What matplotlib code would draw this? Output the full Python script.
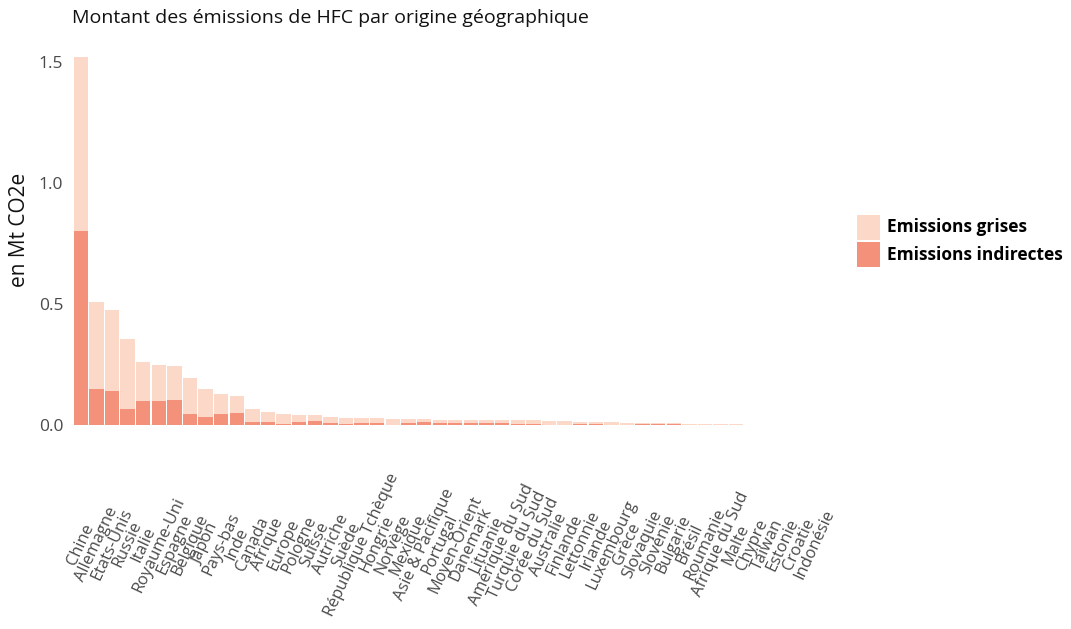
import matplotlib
matplotlib.use("Agg")
import matplotlib.pyplot as plt
from matplotlib.patches import Rectangle
import numpy as np

countries = ["Chine", "Allemagne", "Etats-Unis", "Russie", "Italie", "Royaume-Uni",
             "Espagne", "Belgique", "Japon", "Pays-bas", "Inde", "Canada", "Afrique",
             "Europe", "Pologne", "Suisse", "Autriche", "Suède", "République Tchèque",
             "Hongrie", "Norvège", "Mexique", "Asie & Pacifique", "Portugal",
             "Moyen-Orient", "Danemark", "Lituanie", "Amérique du Sud", "Turquie du Sud",
             "Corée du Sud", "Australie", "Finlande", "Lettonnie", "Irlande", "Luxembourg",
             "Grèce", "Slovaquie", "Slovénie", "Bulgarie", "Brésil", "Roumanie",
             "Afrique du Sud", "Malte", "Chypre", "Taiwan", "Estonie", "Croatie", "Indonésie"]

emissions_indirectes = [0.800, 0.150, 0.140, 0.065, 0.098, 0.098, 0.102, 0.045, 0.035, 0.045,
                        0.049, 0.012, 0.011, 0.003, 0.012, 0.017, 0.009, 0.004, 0.009, 0.009,
                        0.000, 0.009, 0.012, 0.009, 0.009, 0.009, 0.009, 0.009, 0.003, 0.003,
                        0.000, 0.000, 0.003, 0.003, 0.000, 0.000, 0.004, 0.004, 0.004, 0.000,
                        0.000, 0.000, 0.000, 0.000, 0.000, 0.000, 0.000, 0.000]

emissions_grises = [0.720, 0.357, 0.334, 0.289, 0.164, 0.149, 0.142, 0.149, 0.115, 0.082,
                    0.070, 0.056, 0.041, 0.041, 0.030, 0.023, 0.026, 0.026, 0.019, 0.018,
                    0.026, 0.014, 0.011, 0.013, 0.013, 0.013, 0.013, 0.012, 0.018, 0.016,
                    0.015, 0.015, 0.009, 0.008, 0.011, 0.008, 0.003, 0.003, 0.003, 0.005,
                    0.004, 0.003, 0.003, 0.001, 0.001, 0.0005, 0.0005, 0.0003]

series_labels = ["Emissions grises", "Emissions indirectes"]

y_ticks = [0.0, 0.5, 1.0, 1.5]
y_tick_labels = ["0.0", "0.5", "1.0", "1.5"]

c_grises = "#FCD8C8"
c_indirectes = "#F4917A"

W, H = 1071, 629
fig = plt.figure(figsize=(W / 100, H / 100), dpi=100)
ax = fig.add_axes([73 / W, 204 / H, 749 / W, 375 / H])

x = np.arange(len(countries))
ax.bar(x, emissions_indirectes, width=0.92, color=c_indirectes, linewidth=0)
ax.bar(x, emissions_grises, width=0.92, bottom=emissions_indirectes, color=c_grises,
       linewidth=0)

ax.set_xlim(-0.5, len(countries) - 0.5)
ax.set_ylim(0, 1.55)
for s in ax.spines.values():
    s.set_visible(False)

ax.set_yticks(y_ticks)
ax.set_yticklabels(y_tick_labels, fontfamily="Open Sans", fontsize=12.5, color="#4a4a4a")
ax.tick_params(axis="y", length=0, pad=7)

ax.set_xticks(x)
ax.set_xticklabels(countries, rotation=65, ha="center", va="center", rotation_mode="anchor",
                   fontfamily="Open Sans", fontsize=11.8, color="#4a4a4a")
ax.tick_params(axis="x", length=0, pad=86)

fig.text(20 / W, 1 - 230 / H, "en Mt CO2e", rotation=90, ha="center", va="center",
         fontfamily="Open Sans", fontsize=15, color="#111111")

fig.text(72 / W, 1 - 18 / H, "Montant des émissions de HFC par origine géographique",
         ha="left", va="center", fontfamily="Open Sans", fontsize=14, color="#111111")

# legend (placed in figure pixel coordinates)
for i, (lab, col) in enumerate(zip(series_labels, [c_grises, c_indirectes])):
    top = 215 + i * 27
    fig.patches.append(Rectangle((857 / W, 1 - (top + 25) / H), 23 / W, 25 / H,
                                 transform=fig.transFigure, facecolor=col, edgecolor="none"))
    fig.text(887 / W, 1 - (top + 12.5) / H, lab, ha="left", va="center",
             fontfamily="Open Sans", fontweight="bold", fontsize=12.5, color="#000000")

fig.savefig("out.png", dpi=100)
